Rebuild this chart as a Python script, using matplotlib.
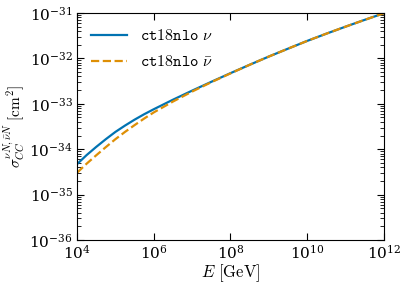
import matplotlib
matplotlib.use("Agg")
import matplotlib.pyplot as plt
import matplotlib.ticker as mticker
import numpy as np

E = [1e4, 10**4.25, 10**4.5, 10**4.75, 1e5, 10**5.25, 10**5.5, 10**5.75, 1e6,
     10**6.5, 1e7, 10**7.5, 1e8, 10**8.5, 1e9, 10**9.5, 1e10, 10**10.5, 1e11,
     10**11.5, 1e12]
sigma_nu = [4.68e-35, 7.41e-35, 1.122e-34, 1.66e-34, 2.40e-34, 3.31e-34, 4.47e-34,
            5.89e-34, 7.59e-34, 1.23e-33, 1.95e-33, 3.05e-33, 4.73e-33, 7.24e-33,
            1.10e-32, 1.64e-32, 2.43e-32, 3.51e-32, 5.01e-32, 7.08e-32, 9.89e-32]
sigma_nubar = [3.02e-35, 4.79e-35, 7.33e-35, 1.11e-34, 1.66e-34, 2.40e-34, 3.39e-34,
               4.73e-34, 6.46e-34, 1.12e-33, 1.86e-33, 2.99e-33, 4.68e-33, 7.24e-33,
               1.10e-32, 1.64e-32, 2.43e-32, 3.51e-32, 5.01e-32, 7.08e-32, 9.89e-32]
labels = [r"$\mathtt{ct18nlo}\ \nu$", r"$\mathtt{ct18nlo}\ \bar{\nu}$"]

plt.rcParams['mathtext.fontset'] = 'cm'
plt.rcParams['font.family'] = 'serif'
plt.rcParams['font.serif'] = ['DejaVu Serif']

fig = plt.figure(figsize=(4.05, 2.91), dpi=100)
ax = fig.add_axes([77/405, 1-240/291, (384-77)/405, (240-13)/291])

ax.plot(E, sigma_nu, color='#0173b2', lw=1.6, label=labels[0])
ax.plot(E, sigma_nubar, color='#de8f05', lw=1.6, ls='--', label=labels[1])

ax.set_xscale('log')
ax.set_yscale('log')
ax.set_xlim(1e4, 1e12)
ax.set_ylim(1e-36, 1e-31)
ax.xaxis.set_major_locator(mticker.FixedLocator([1e4, 1e6, 1e8, 1e10, 1e12]))
ax.xaxis.set_minor_locator(mticker.NullLocator())
ax.yaxis.set_major_locator(mticker.LogLocator(base=10, numticks=10))
ax.yaxis.set_minor_locator(mticker.LogLocator(base=10, subs=np.arange(2, 10), numticks=20))
ax.yaxis.set_minor_formatter(mticker.NullFormatter())

ax.tick_params(which='both', direction='in', top=True, right=True, labelsize=11)
ax.tick_params(which='major', length=5, width=0.8, pad=3)
ax.tick_params(which='minor', length=3, width=0.6)

ax.set_xlabel(r"$E\ [\mathrm{GeV}]$", fontsize=12, labelpad=0)
ax.set_ylabel(r"$\sigma_{CC}^{\nu N,\bar{\nu}N}\ [\mathrm{cm}^2]$", fontsize=11, labelpad=2)

ax.legend(loc='upper left', frameon=False, fontsize=11.5, handlelength=2.2,
          handletextpad=0.85, borderaxespad=0.5, labelspacing=0.55)

fig.savefig("out.png", dpi=100)
